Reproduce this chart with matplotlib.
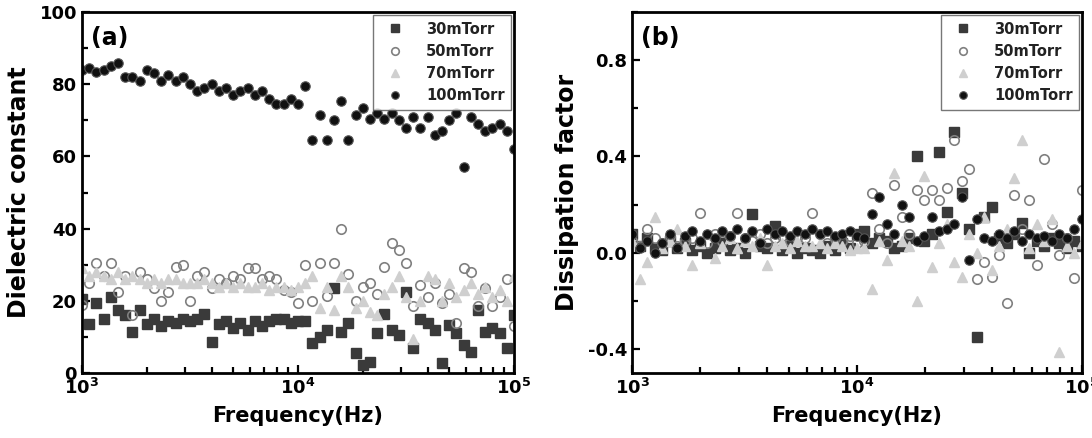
import numpy as np
import matplotlib.pyplot as plt
from matplotlib.ticker import LogLocator, MultipleLocator, FormatStrFormatter

plt.rcParams['font.family'] = ['DejaVu Sans']
plt.rcParams['font.weight'] = 'bold'
plt.rcParams['axes.unicode_minus'] = False

# measurement frequencies (Hz), 30 points per decade from 1 kHz to 100 kHz
freq = np.logspace(3, 5, 61)

labels = ["30mTorr", "50mTorr", "70mTorr", "100mTorr"]

# (a) dielectric constant
eps_30 = [20.5, 13.5, 19.5, 15, 21, 17.5, 16, 11.5, 17.5, 13.5,
          15, 13, 14.5, 14, 15, 14.5, 15, 16.5, 8.5, 13.5,
          14.5, 12.5, 14, 12, 14.5, 13, 14.5, 15, 15, 14,
          14.5, 14.5, 8.3, 10, 12, 23.5, 11.5, 14, 5.5, 2.2,
          3, 11, 16.5, 12, 10.5, 22.5, 7, 15, 14, 12,
          2.8, 13.3, 11, 7.8, 5.8, 17.5, 11.5, 12.5, 11, 7, 16]
eps_50 = [19, 25, 30.5, 27, 30.5, 22.5, 27, 16, 28, 26,
          23.5, 20, 22.5, 29.5, 30, 20, 27, 28, 23.5, 26,
          25, 27, 26, 29, 29, 26, 27, 26, 23, 22.5,
          19.5, 30, 20, 30.5, 21.5, 30.5, 40, 27.5, 20, 24,
          25, 22, 29.5, 36, 34, 30.5, 18.5, 24.5, 21, 25,
          19.5, 22, 14, 29, 28, 18.5, 23.5, 18.5, 21, 26, 13]
eps_70 = [29, 27, 28, 27, 26, 28, 26, 27, 26, 25,
          26, 25, 26, 26, 25, 25, 25, 26, 25, 24,
          25, 24, 25, 24, 24, 25, 23, 24, 24, 23,
          24, 25, 27, 18, 24, 17.5, 27, 24, 18, 20,
          17, 16, 22, 24, 27, 21, 9.5, 20, 27, 26,
          20, 25, 21, 23, 25, 22, 24, 21, 23, 20, 27]
eps_100 = [84, 84.5, 83.5, 84, 85, 86, 82, 82, 81, 84,
           83, 81, 82.5, 81, 82, 80, 78, 79, 80, 78,
           79, 77, 78, 79, 77, 78, 76, 74.5, 74.5, 76,
           74.5, 79.5, 64.5, 71.5, 64.5, 70, 75.5, 64.5, 71.5, 73.5,
           70.5, 72, 70.5, 72, 70, 68, 71, 68, 71, 66,
           67, 70, 72, 57, 71, 69, 67, 68, 69, 67, 62]

# (b) dissipation factor
df_30 = [0.08, 0.03, 0.06, 0.02, 0.01, 0.05, 0.02, 0.04, 0.01, 0.03,
         0.0, 0.02, 0.04, 0.01, 0.02, 0.0, 0.16, 0.03, 0.02, 0.11,
         0.01, 0.03, 0.0, 0.02, 0.01, 0.0, 0.03, 0.01, 0.04, 0.02,
         0.08, 0.09, 0.04, 0.06, 0.05, 0.02, 0.03, 0.06, 0.4, 0.05,
         0.08, 0.42, 0.17, 0.5, 0.25, 0.1, -0.35, 0.15, 0.19, 0.06,
         0.04, 0.08, 0.125, 0.0, 0.05, 0.03, 0.06, 0.04, 0.02, 0.05, 0.03]
df_50 = [0.05, 0.03, 0.1, 0.06, 0.04, 0.07, 0.03, 0.05, 0.06, 0.165,
         0.04, 0.08, 0.05, 0.07, 0.165, 0.06, 0.05, 0.08, 0.04, 0.06,
         0.07, 0.05, 0.06, 0.06, 0.165, 0.08, 0.04, 0.06, 0.05, 0.07,
         0.04, 0.05, 0.25, 0.1, 0.04, 0.28, 0.15, 0.08, 0.26, 0.22,
         0.26, 0.22, 0.27, 0.47, 0.3, 0.35, -0.11, -0.04, -0.1, -0.01,
         -0.21, 0.24, 0.1, 0.22, -0.05, 0.39, 0.12, -0.01, 0.06, -0.105, 0.26]
df_70 = [0.05, -0.11, -0.04, 0.15, 0.02, 0.05, 0.1, 0.03, -0.05, 0.04,
         0.08, -0.02, 0.03, 0.06, 0.02, 0.05, 0.03, 0.06, -0.05, 0.03,
         0.04, 0.02, 0.05, 0.03, 0.03, 0.04, 0.02, 0.04, 0.03, 0.01,
         0.02, 0.02, -0.15, 0.05, -0.03, 0.33, 0.05, 0.03, -0.2, 0.32,
         -0.06, 0.04, 0.12, -0.04, -0.1, 0.08, 0.0, 0.15, -0.07, 0.03,
         0.1, 0.31, 0.47, 0.02, 0.12, 0.05, 0.14, -0.41, 0.03, 0.0, 0.04]
df_100 = [0.08, 0.02, 0.05, 0.0, 0.04, 0.08, 0.02, 0.07, 0.09, 0.05,
          0.08, 0.06, 0.09, 0.07, 0.1, 0.06, 0.09, 0.04, 0.1, 0.08,
          0.09, 0.07, 0.09, 0.08, 0.1, 0.08, 0.09, 0.07, 0.08, 0.09,
          0.07, 0.06, 0.16, 0.23, 0.12, 0.08, 0.2, 0.15, 0.05, 0.07,
          0.15, 0.09, 0.1, 0.12, 0.23, -0.03, 0.14, 0.06, 0.05, 0.08,
          0.06, 0.09, 0.05, 0.08, 0.06, 0.07, 0.05, 0.08, 0.06, 0.1, 0.14]

styles = [
    dict(marker="s", color="#3a3a3a", mfc="#3a3a3a", mec="#3a3a3a"),
    dict(marker="o", color="#808080", mfc="none", mec="#808080", mew=1.2),
    dict(marker="^", color="#cfcfcf", mfc="#cfcfcf", mec="#cfcfcf"),
    dict(marker="o", color="#111111", mfc="#111111", mec="#555555", mew=0.8),
]

fig = plt.figure(figsize=(10.92, 4.38), dpi=100)
ax_a = fig.add_axes([0.075, 0.148, 0.3957, 0.8245])
ax_b = fig.add_axes([0.5788, 0.148, 0.412, 0.8245])

panels = [
    (ax_a, [eps_30, eps_50, eps_70, eps_100], "Dielectric constant", "(a)"),
    (ax_b, [df_30, df_50, df_70, df_100], "Dissipation factor", "(b)"),
]

for ax, series, ylab, tag in panels:
    for vals, lab, st in zip(series, labels, styles):
        ax.plot(freq, vals, linestyle="none", markersize=6.8, label=lab, **st)
    ax.set_xscale("log")
    ax.set_xlim(1e3, 1e5)
    ax.xaxis.set_major_locator(LogLocator(base=10, numticks=5))
    ax.xaxis.set_minor_locator(LogLocator(base=10, subs=np.arange(2, 10), numticks=20))
    ax.tick_params(which="both", direction="in", width=1.6, labelsize=13,
                   top=False, right=False)
    ax.tick_params(which="major", length=6)
    ax.tick_params(which="minor", length=4)
    for sp in ax.spines.values():
        sp.set_linewidth(2)
    ax.set_xlabel("Frequency(Hz)", fontsize=15, fontweight="bold", labelpad=6)
    ax.set_ylabel(ylab, fontsize=17, fontweight="bold", labelpad=6)
    ax.text(0.02, 0.96, tag, transform=ax.transAxes, fontsize=17,
            fontweight="bold", va="top", ha="left")
    for t in ax.get_xticklabels() + ax.get_yticklabels():
        t.set_fontweight("bold")
    leg = ax.legend(loc="upper right", fontsize=10.5, markerscale=0.8,
                    frameon=True, fancybox=False, handletextpad=1.0,
                    handlelength=2.2, borderaxespad=0.2, labelspacing=0.5,
                    borderpad=0.45)
    leg.get_frame().set_edgecolor("#555555")
    leg.get_frame().set_linewidth(1.0)
    for t in leg.get_texts():
        t.set_fontweight("bold")
        t.set_color("#222222")

ax_a.set_ylim(0, 100)
ax_a.yaxis.set_major_locator(MultipleLocator(20))
ax_a.yaxis.set_minor_locator(MultipleLocator(10))

ax_b.set_ylim(-0.5, 1.0)
ax_b.yaxis.set_major_locator(MultipleLocator(0.4))
ax_b.yaxis.set_minor_locator(MultipleLocator(0.2))
ax_b.yaxis.set_major_formatter(FormatStrFormatter("%.1f"))

fig.savefig("out.png", dpi=100)
plt.close(fig)
